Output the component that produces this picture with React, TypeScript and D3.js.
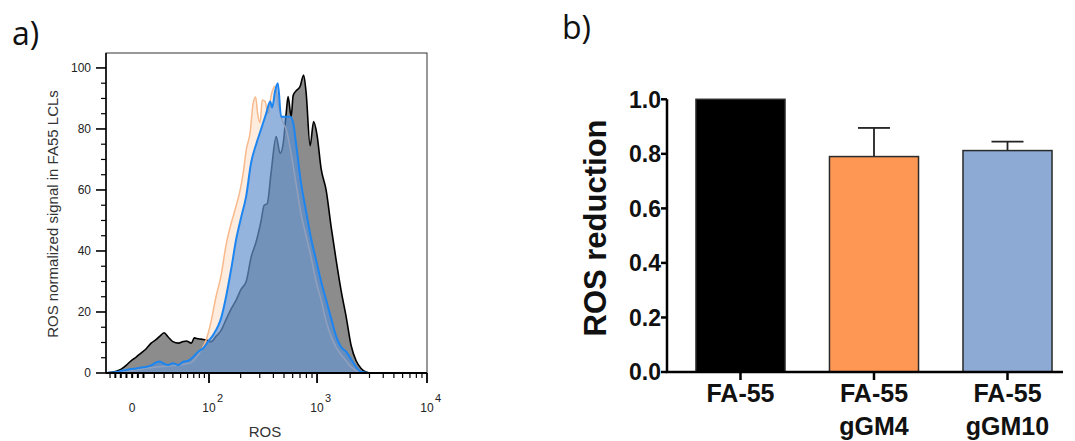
import React, { useEffect, useRef } from "react";
import * as d3 from "d3";

// ---- panel a: ROS histograms (x = ROS intensity, y = % of max) ----
const fa55Ros = [-24, -19, -14, -10, -5, -1, 3.5, 8, 12, 17, 22, 27, 30, 34.5, 40, 47, 53.5, 58, 66, 71, 78, 87.5, 94, 105, 117, 131, 146, 163, 182, 202, 225, 250, 278, 309, 329, 351, 382, 424, 461, 491, 523, 545, 581, 606, 645, 702, 755, 795, 865, 931, 1000, 1089, 1209, 1343, 1492, 1656, 1839, 2042, 2267, 2517, 2795, 3103, 10000];
const fa55Count = [0, 0.2, 0.6, 1.2, 2.6, 4.0, 5.2, 6.6, 7.8, 9.8, 11, 12.5, 13.2, 11.8, 10.3, 9.8, 10.3, 10.5, 9.8, 11.5, 11.2, 11, 10.8, 10.3, 12, 14, 17.5, 21, 24, 27.5, 30, 38, 43, 50, 55, 55.5, 66, 77.5, 72, 75, 85, 90.6, 84, 91, 92.5, 94, 97.7, 92, 74.5, 82.4, 78, 67, 60, 48, 37, 27, 18.5, 9, 4, 1.5, 0.3, 0, 0];

const gGM4Ros = [-24, -14, -5, 3.5, 12, 22, 32, 44, 58, 66, 74, 83.5, 94, 105, 117, 131, 146, 163, 182, 198, 211, 225, 245, 261, 275, 287, 302, 316, 336, 358, 382, 415, 442, 491, 523, 581, 645, 717, 795, 883, 981, 1089, 1209, 1343, 1492, 1656, 1839, 2042, 2267, 2517, 10000];
const gGM4Count = [0, 0, 0.5, 1, 1.5, 2, 2.2, 2.5, 3, 3.5, 5, 7.5, 11, 17, 25, 32, 42, 49, 55, 60, 65.5, 73, 79, 88.5, 90.5, 85, 82, 89.5, 89, 85, 91, 94, 88, 82, 80, 72, 62, 52, 45, 38, 30, 24, 17, 12, 8.5, 6, 4, 2, 0.8, 0, 0];

const gGM10Ros = [-24, -14, -10, -5, -1, 3.5, 8, 12, 17, 22, 25, 29, 34.5, 40, 47, 53.5, 61, 69, 78, 87.5, 98, 110, 123, 131, 146, 163, 182, 202, 225, 250, 278, 309, 343, 374, 390, 415, 439, 471, 512, 569, 606, 645, 717, 795, 883, 981, 1089, 1209, 1343, 1492, 1656, 1839, 2042, 2267, 2517, 2795, 3103, 10000];
const gGM10Count = [0, 0.3, 0.7, 1, 1.3, 1.5, 1.8, 2, 2.5, 3.5, 3.8, 3.2, 2.6, 3.2, 2.6, 3.7, 4, 5.3, 7, 8.1, 10.3, 12.5, 15.5, 18, 25, 34, 44, 51, 58, 69, 75, 80, 85, 89, 87, 92.5, 95, 84, 84, 84, 82, 75, 62, 53, 44, 37, 30, 24, 18, 12, 8.5, 7, 4.5, 2, 0.4, 0.1, 0, 0];

const countTicks = [0, 20, 40, 60, 80, 100];
const countMinorTicks = [5, 10, 15, 25, 30, 35, 45, 50, 55, 65, 70, 75, 85, 90, 95];
const rosMajor = [100, 1000, 10000];
const rosExponents = ["2", "3", "4"];
const rosMinor = [-20, -15, -10, -5, 0, 5, 10, 20, 30, 40, 50, 60, 70, 80, 90, 200, 300, 400, 500, 600, 700, 800, 900, 2000, 3000, 4000, 5000, 6000, 7000, 8000, 9000];

// ---- panel b: ROS reduction bars ----
const groups = ["FA-55", "FA-55\ngGM4", "FA-55\ngGM10"];
const reduction = [1.0, 0.79, 0.812];
const errorUp = [0, 0.105, 0.033];
const barColors = ["#000000", "#fe9754", "#8caad4"];
const reductionTicks = [0, 0.2, 0.4, 0.6, 0.8, 1.0];

const COFACTOR = 41.7;

export default function App() {
  const ref = useRef<SVGSVGElement>(null);

  useEffect(() => {
    const svg = d3.select(ref.current);
    svg.selectAll("*").remove();

    // ---------------- panel a ----------------
    const left = 106, right = 427, top = 53, bottom = 373;
    const tr = (v: number) => Math.asinh(v / COFACTOR);
    const xLin = d3.scaleLinear().domain([tr(-24), tr(10000)]).range([left, right]);
    const x = (v: number) => xLin(tr(v));
    const y = d3.scaleLinear().domain([0, 104.9]).range([bottom, top]);

    svg.append("clipPath").attr("id", "boxA")
      .append("rect").attr("x", left).attr("y", top).attr("width", right - left).attr("height", bottom - top);

    const series = [
      { ros: fa55Ros, cnt: fa55Count, fill: "#8c8c8c", fillOp: 1, stroke: "#000", sw: 1.6 },
      { ros: gGM4Ros, cnt: gGM4Count, fill: "#fbb27a", fillOp: 0.25, stroke: "#f8b98c", sw: 1.5 },
      { ros: gGM10Ros, cnt: gGM10Count, fill: "#4f8fdc", fillOp: 0.6, stroke: "#1d85f0", sw: 2 },
    ];

    const area = d3.area<[number, number]>()
      .x(d => x(d[0])).y0(y(0)).y1(d => y(d[1]))
      .curve(d3.curveMonotoneX);
    const line = d3.line<[number, number]>()
      .x(d => x(d[0])).y(d => y(d[1]))
      .curve(d3.curveMonotoneX);

    const hist = svg.append("g").attr("clip-path", "url(#boxA)");
    series.forEach(s => {
      const pts = s.ros.map((r, i) => [r, s.cnt[i]] as [number, number]);
      hist.append("path").attr("d", area(pts)).attr("fill", s.fill).attr("fill-opacity", s.fillOp);
      hist.append("path").attr("d", line(pts)).attr("fill", "none")
        .attr("stroke", s.stroke).attr("stroke-width", s.sw).attr("stroke-linejoin", "round");
    });

    // frame
    svg.append("rect").attr("x", left).attr("y", top).attr("width", right - left).attr("height", bottom - top)
      .attr("fill", "none").attr("stroke", "#333").attr("stroke-width", 1);
    svg.append("line").attr("x1", left).attr("x2", right).attr("y1", bottom).attr("y2", bottom)
      .attr("stroke", "#000").attr("stroke-width", 2);
    svg.append("line").attr("x1", left).attr("x2", left).attr("y1", top).attr("y2", bottom)
      .attr("stroke", "#000").attr("stroke-width", 1.5);

    // y ticks
    const yAx = svg.append("g");
    countMinorTicks.forEach(t => {
      yAx.append("line").attr("x1", left - 5).attr("x2", left).attr("y1", y(t)).attr("y2", y(t))
        .attr("stroke", "#000").attr("stroke-width", 1.2);
    });
    countTicks.forEach(t => {
      yAx.append("line").attr("x1", left - 10).attr("x2", left).attr("y1", y(t)).attr("y2", y(t))
        .attr("stroke", "#000").attr("stroke-width", 1.6);
      yAx.append("text").attr("x", left - 15).attr("y", y(t)).attr("dy", "0.35em")
        .attr("text-anchor", "end").attr("font-family", "Liberation Sans, Arial, sans-serif")
        .attr("font-size", 12).attr("fill", "#222").text(t);
    });

    // x ticks
    const xAx = svg.append("g");
    rosMinor.forEach(t => {
      xAx.append("line").attr("x1", x(t)).attr("x2", x(t)).attr("y1", bottom).attr("y2", bottom + 5)
        .attr("stroke", "#000").attr("stroke-width", t > -20 && t < 20 ? 2 : 1.2);
    });
    rosMajor.forEach((t, i) => {
      xAx.append("line").attr("x1", x(t)).attr("x2", x(t)).attr("y1", bottom).attr("y2", bottom + 10)
        .attr("stroke", "#000").attr("stroke-width", 1.8);
      xAx.append("text").attr("x", x(t)).attr("y", 412).attr("text-anchor", "middle")
        .attr("font-family", "Liberation Sans, Arial, sans-serif").attr("font-size", 12).attr("fill", "#222").text("10");
      xAx.append("text").attr("x", x(t) + 8).attr("y", 402)
        .attr("font-family", "Liberation Sans, Arial, sans-serif").attr("font-size", 11).attr("fill", "#222").text(rosExponents[i]);
    });
    xAx.append("text").attr("x", x(0)).attr("y", 412).attr("text-anchor", "middle")
      .attr("font-family", "Liberation Sans, Arial, sans-serif").attr("font-size", 12).attr("fill", "#222").text("0");

    svg.append("text").attr("x", 265).attr("y", 437).attr("text-anchor", "middle")
      .attr("font-family", "Liberation Sans, Arial, sans-serif").attr("font-size", 15).attr("fill", "#333").text("ROS");
    svg.append("text").attr("transform", "translate(58,214) rotate(-90)").attr("text-anchor", "middle")
      .attr("font-family", "Liberation Sans, Arial, sans-serif").attr("font-size", 15).attr("fill", "#333")
      .text("ROS normalized signal in FA55 LCLs");

    // ---------------- panel b ----------------
    const bx0 = 667, bAxisEnd = 1063, by0 = 372, by1 = 99.3;
    const xb = d3.scaleBand().domain(groups).range([bx0, 1081]).paddingInner(0.333).paddingOuter(0.217);
    const yb = d3.scaleLinear().domain([0, 1]).range([by0, by1]);

    const bars = svg.append("g");
    groups.forEach((g, i) => {
      const cx = (xb(g) as number) + xb.bandwidth() / 2;
      if (errorUp[i] > 0) {
        bars.append("line").attr("x1", cx).attr("x2", cx).attr("y1", yb(reduction[i])).attr("y2", yb(reduction[i] + errorUp[i]))
          .attr("stroke", "#222").attr("stroke-width", 1.8);
        bars.append("line").attr("x1", cx - 16).attr("x2", cx + 16)
          .attr("y1", yb(reduction[i] + errorUp[i])).attr("y2", yb(reduction[i] + errorUp[i]))
          .attr("stroke", "#222").attr("stroke-width", 1.8);
      }
      bars.append("rect").attr("x", xb(g) as number).attr("y", yb(reduction[i]))
        .attr("width", xb.bandwidth()).attr("height", yb(0) - yb(reduction[i]))
        .attr("fill", barColors[i]).attr("stroke", "#2a2a2a").attr("stroke-width", 1.5);
    });

    // axes
    svg.append("line").attr("x1", bx0).attr("x2", bx0).attr("y1", by1).attr("y2", by0 + 1)
      .attr("stroke", "#000").attr("stroke-width", 2.5);
    svg.append("line").attr("x1", bx0 - 1).attr("x2", bAxisEnd).attr("y1", by0).attr("y2", by0)
      .attr("stroke", "#000").attr("stroke-width", 2.5);
    reductionTicks.forEach(t => {
      svg.append("line").attr("x1", bx0 - 6).attr("x2", bx0).attr("y1", yb(t)).attr("y2", yb(t))
        .attr("stroke", "#000").attr("stroke-width", 2.5);
      svg.append("text").attr("x", bx0 - 6).attr("y", yb(t)).attr("dy", "0.36em").attr("text-anchor", "end")
        .attr("font-family", "Liberation Sans, Arial, sans-serif").attr("font-weight", "bold")
        .attr("font-size", 23).attr("fill", "#111").text(d3.format(".1f")(t));
    });
    groups.forEach(g => {
      const cx = (xb(g) as number) + xb.bandwidth() / 2;
      svg.append("line").attr("x1", cx).attr("x2", cx).attr("y1", by0).attr("y2", by0 + 8)
        .attr("stroke", "#000").attr("stroke-width", 2.5);
      g.split("\n").forEach((part, k) => {
        svg.append("text").attr("x", cx).attr("y", 402 + k * 33).attr("text-anchor", "middle")
          .attr("font-family", "Liberation Sans, Arial, sans-serif").attr("font-weight", "bold")
          .attr("font-size", 25).attr("fill", "#111").text(part);
      });
    });
    svg.append("text").attr("transform", "translate(606,228) rotate(-90)").attr("text-anchor", "middle")
      .attr("font-family", "Liberation Sans, Arial, sans-serif").attr("font-weight", "bold")
      .attr("font-size", 31).attr("fill", "#111").text("ROS reduction");

    // panel letters
    svg.append("text").attr("x", 12).attr("y", 45).attr("font-family", "Open Sans, sans-serif")
      .attr("font-size", 32).attr("fill", "#111").text("a)");
    svg.append("text").attr("x", 562).attr("y", 39).attr("font-family", "Open Sans, sans-serif")
      .attr("font-size", 32).attr("fill", "#111").text("b)");
  }, []);

  return (
    <svg ref={ref} width={1075} height={441}
      style={{ position: "absolute", left: 0, top: 0, background: "#fff" }} />
  );
}
